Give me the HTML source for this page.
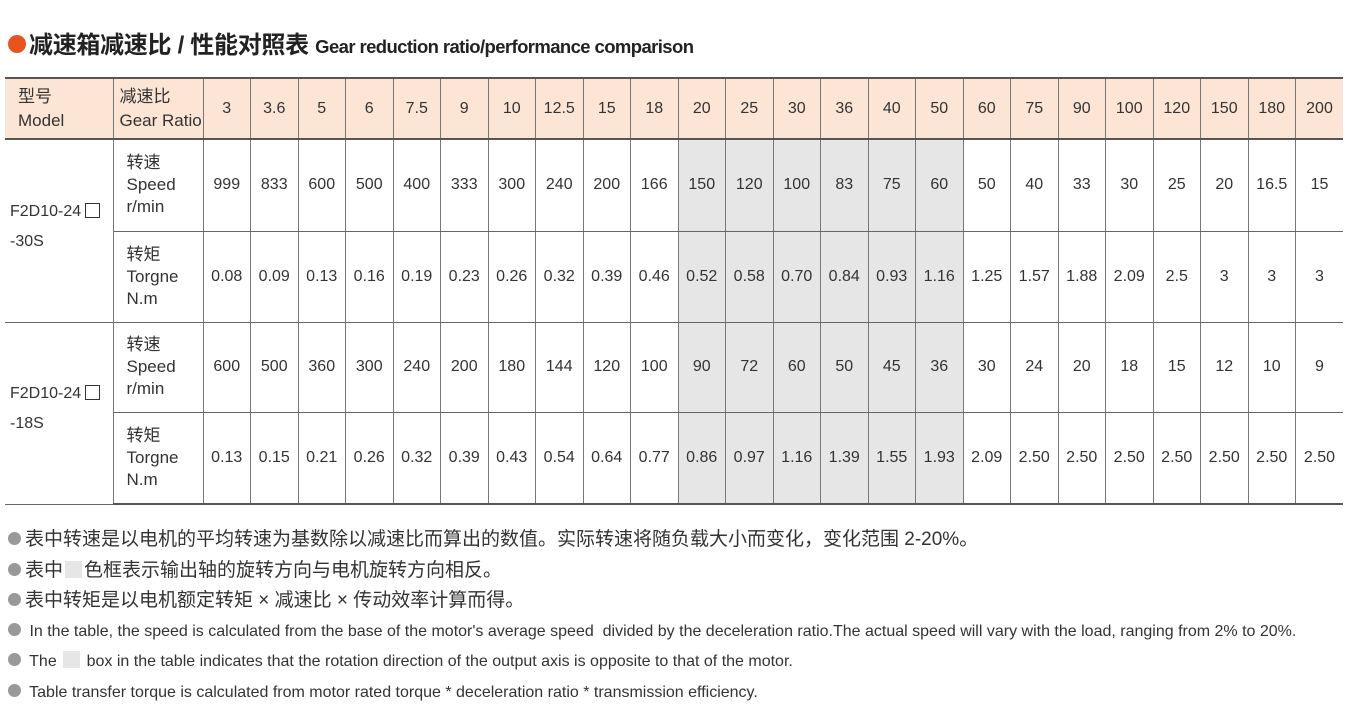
<!DOCTYPE html>
<html><head><meta charset="utf-8"><style>
body{margin:0;width:1348px;height:712px;background:#fff;font-family:"Liberation Sans","Noto Sans CJK SC",sans-serif;color:#333;position:relative;overflow:hidden}
.title{position:absolute;left:8px;top:30px;font-size:24px;font-weight:bold;color:#222;white-space:nowrap;letter-spacing:-0.3px;line-height:32px}
.title .dot{display:inline-block;width:18px;height:18px;border-radius:50%;background:#e8541c;vertical-align:0px;margin-right:3px}
.title .en{font-size:18.5px;letter-spacing:-0.6px}
table{position:absolute;left:5px;top:77px;border-collapse:collapse;table-layout:fixed;width:1338px}
td{border-left:1px solid #777;border-right:1px solid #777;border-top:1px solid #666;border-bottom:1px solid #666;text-align:center;font-size:16px;padding:0;color:#333}
tr.h td{background:#fce5d4;height:59px;border-top:2px solid #555;border-bottom:2px solid #555}
tr.h td.l{text-align:left;padding-left:6px;line-height:24px;font-size:17px}
td.first{border-left:none}
td.lastc{border-right:none}
td.g{background:#e6e6e6}
td.lab{text-align:left;padding-left:13px;line-height:22px;font-size:17px}
td.m{text-align:left;padding-left:5px;line-height:30px;font-size:16px;vertical-align:middle;padding-bottom:8px}
tr.last td{border-bottom:2px solid #555}
.sq{display:inline-block;width:13px;height:13px;border:1.3px solid #333;vertical-align:-2px;margin-left:4px}
.notes{position:absolute;left:8px;top:527px;font-size:19px;color:#333}
.notes div{height:30.5px;line-height:26px;white-space:nowrap}
.notes .en{font-size:16px}
.b{display:inline-block;width:13px;height:13px;border-radius:50%;background:#999;margin-right:4px;vertical-align:0px}
.gb{display:inline-block;width:17px;height:17px;background:#e6e6e6;vertical-align:-2px;margin:0 2px}
</style></head><body>
<div class="title"><span class="dot"></span>减速箱减速比 / 性能对照表 <span class="en">Gear reduction ratio/performance comparison</span></div>
<table>
<colgroup><col style="width:108px"><col style="width:90px">
<col style="width:47.5px"><col style="width:47.5px"><col style="width:47.5px"><col style="width:47.5px"><col style="width:47.5px"><col style="width:47.5px"><col style="width:47.5px"><col style="width:47.5px"><col style="width:47.5px"><col style="width:47.5px"><col style="width:47.5px"><col style="width:47.5px"><col style="width:47.5px"><col style="width:47.5px"><col style="width:47.5px"><col style="width:47.5px"><col style="width:47.5px"><col style="width:47.5px"><col style="width:47.5px"><col style="width:47.5px"><col style="width:47.5px"><col style="width:47.5px"><col style="width:47.5px"><col style="width:47.5px"></colgroup>
<tr class="h"><td class="l first" style="padding-left:13px">型号<br>Model</td><td class="l">减速比<br>Gear Ratio</td><td>3</td><td>3.6</td><td>5</td><td>6</td><td>7.5</td><td>9</td><td>10</td><td>12.5</td><td>15</td><td>18</td><td>20</td><td>25</td><td>30</td><td>36</td><td>40</td><td>50</td><td>60</td><td>75</td><td>90</td><td>100</td><td>120</td><td>150</td><td>180</td><td class="lastc">200</td></tr>
<tr style="height:92px"><td class="m first" rowspan="2">F2D10-24<span class="sq"></span><br>-30S</td><td class="lab">转速<br>Speed<br>r/min</td><td>999</td><td>833</td><td>600</td><td>500</td><td>400</td><td>333</td><td>300</td><td>240</td><td>200</td><td>166</td><td class="g">150</td><td class="g">120</td><td class="g">100</td><td class="g">83</td><td class="g">75</td><td class="g">60</td><td>50</td><td>40</td><td>33</td><td>30</td><td>25</td><td>20</td><td>16.5</td><td class="lastc">15</td></tr>
<tr style="height:91px"><td class="lab">转矩<br>Torgne<br>N.m</td><td>0.08</td><td>0.09</td><td>0.13</td><td>0.16</td><td>0.19</td><td>0.23</td><td>0.26</td><td>0.32</td><td>0.39</td><td>0.46</td><td class="g">0.52</td><td class="g">0.58</td><td class="g">0.70</td><td class="g">0.84</td><td class="g">0.93</td><td class="g">1.16</td><td>1.25</td><td>1.57</td><td>1.88</td><td>2.09</td><td>2.5</td><td>3</td><td>3</td><td class="lastc">3</td></tr>
<tr style="height:90px"><td class="m first" rowspan="2">F2D10-24<span class="sq"></span><br>-18S</td><td class="lab">转速<br>Speed<br>r/min</td><td>600</td><td>500</td><td>360</td><td>300</td><td>240</td><td>200</td><td>180</td><td>144</td><td>120</td><td>100</td><td class="g">90</td><td class="g">72</td><td class="g">60</td><td class="g">50</td><td class="g">45</td><td class="g">36</td><td>30</td><td>24</td><td>20</td><td>18</td><td>15</td><td>12</td><td>10</td><td class="lastc">9</td></tr>
<tr class="last" style="height:92px"><td class="lab">转矩<br>Torgne<br>N.m</td><td>0.13</td><td>0.15</td><td>0.21</td><td>0.26</td><td>0.32</td><td>0.39</td><td>0.43</td><td>0.54</td><td>0.64</td><td>0.77</td><td class="g">0.86</td><td class="g">0.97</td><td class="g">1.16</td><td class="g">1.39</td><td class="g">1.55</td><td class="g">1.93</td><td>2.09</td><td>2.50</td><td>2.50</td><td>2.50</td><td>2.50</td><td>2.50</td><td>2.50</td><td class="lastc">2.50</td></tr>
</table>
<div class="notes">
<div><span class="b"></span>表中转速是以电机的平均转速为基数除以减速比而算出的数值。实际转速将随负载大小而变化，变化范围 2-20%。</div>
<div><span class="b"></span>表中<span class="gb"></span>色框表示输出轴的旋转方向与电机旋转方向相反。</div>
<div><span class="b"></span>表中转矩是以电机额定转矩 × 减速比 × 传动效率计算而得。</div>
<div class="en"><span class="b"></span> In the table, the speed is calculated from the base of the motor's average speed&nbsp; divided by the deceleration ratio.The actual speed will vary with the load, ranging from 2% to 20%.</div>
<div class="en"><span class="b"></span> The <span class="gb"></span> box in the table indicates that the rotation direction of the output axis is opposite to that of the motor.</div>
<div class="en"><span class="b"></span> Table transfer torque is calculated from motor rated torque * deceleration ratio * transmission efficiency.</div>
</div>
</body></html>
